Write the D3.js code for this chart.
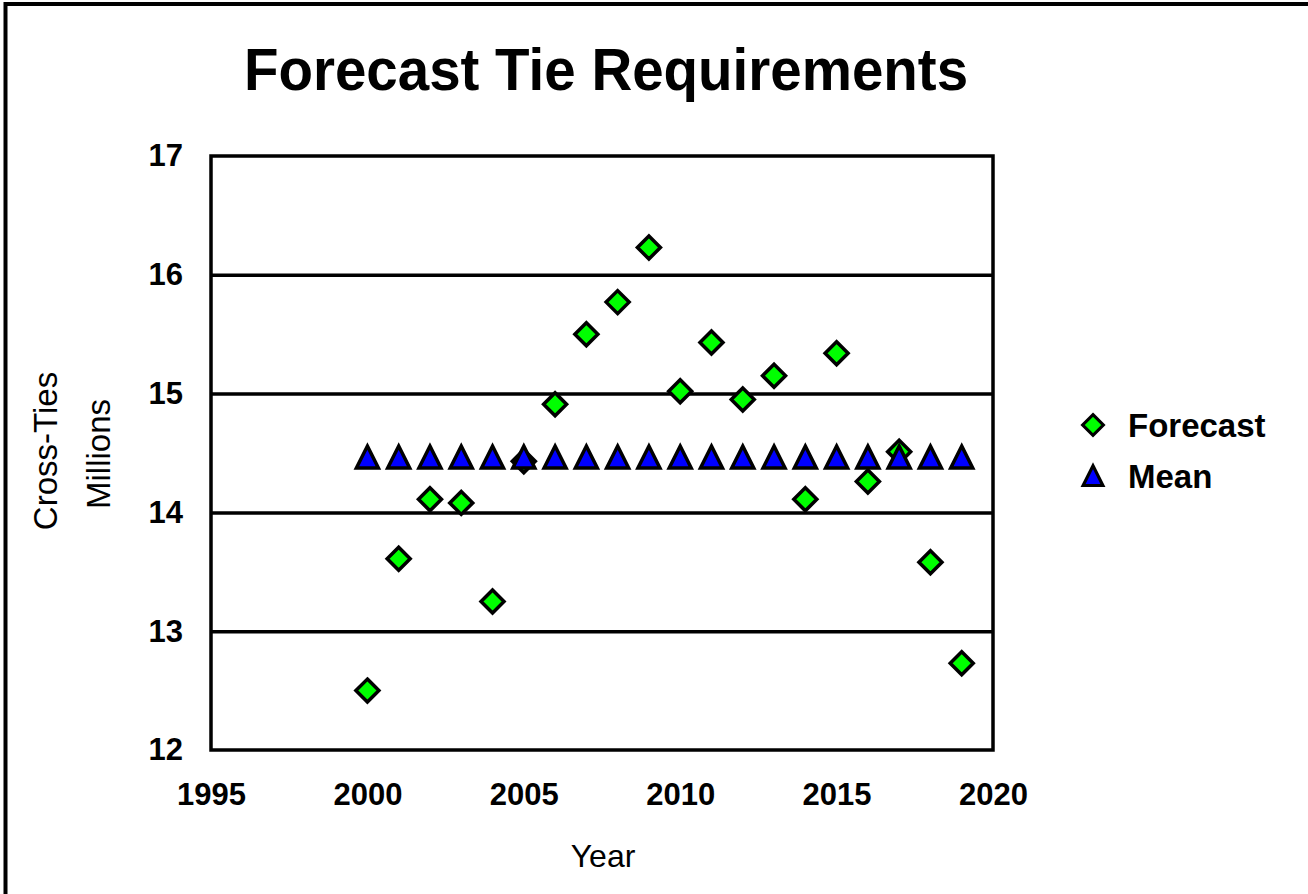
<!DOCTYPE html>
<html>
<head>
<meta charset="utf-8">
<script src="https://cdn.jsdelivr.net/npm/d3@7"></script>
<style>
  html, body { margin: 0; padding: 0; background: #fff; }
  svg { display: block; }
  text { font-family: "Liberation Sans", Arial, sans-serif; fill: #000; }
</style>
</head>
<body>
<svg id="chart" width="1308" height="894"></svg>
<script>
// Annual cross-tie requirements (millions), forecast vs. long-run mean
const years = [2000, 2001, 2002, 2003, 2004, 2005, 2006, 2007, 2008, 2009,
               2010, 2011, 2012, 2013, 2014, 2015, 2016, 2017, 2018, 2019];
const forecast = [12.50, 13.61, 14.11, 14.08, 13.25, 14.43, 14.91, 15.50, 15.77, 16.23,
                  15.02, 15.43, 14.95, 15.15, 14.11, 15.34, 14.26, 14.51, 13.58, 12.73];
const mean = [14.47, 14.47, 14.47, 14.47, 14.47, 14.47, 14.47, 14.47, 14.47, 14.47,
              14.47, 14.47, 14.47, 14.47, 14.47, 14.47, 14.47, 14.47, 14.47, 14.47];
const xTicks = [1995, 2000, 2005, 2010, 2015, 2020];
const yTicks = [12, 13, 14, 15, 16, 17];
const seriesNames = ["Forecast", "Mean"];

const svg = d3.select("#chart");

// Outer chart frame (runs off the right and bottom of the page)
svg.append("rect")
  .attr("x", 5.5).attr("y", 4)
  .attr("width", 1320).attr("height", 910)
  .attr("fill", "none").attr("stroke", "#000").attr("stroke-width", 4);

const plot = { left: 211, right: 993, top: 156, bottom: 750 };

const x = d3.scaleLinear().domain([1995, 2020]).range([plot.left, plot.right]);
const y = d3.scaleLinear().domain([12, 17]).range([plot.bottom, plot.top]);

// Title
svg.append("text")
  .attr("transform", "translate(606,90) scale(1,1.06)")
  .attr("text-anchor", "middle")
  .attr("font-size", 56.5).attr("font-weight", "bold")
  .text("Forecast Tie Requirements");

// Horizontal gridlines
svg.append("g")
  .attr("transform", `translate(${plot.left},0)`)
  .call(d3.axisLeft(y).tickValues(yTicks.slice(1, -1))
        .tickSize(-(plot.right - plot.left)).tickFormat(""))
  .call(g => g.select(".domain").remove())
  .call(g => g.selectAll("line").attr("stroke", "#000").attr("stroke-width", 3.5));

// Plot area border
svg.append("rect")
  .attr("x", plot.left).attr("y", plot.top)
  .attr("width", plot.right - plot.left).attr("height", plot.bottom - plot.top)
  .attr("fill", "none").attr("stroke", "#000").attr("stroke-width", 3.5);

const tickStyle = g => g.selectAll("text")
  .attr("font-size", 31).attr("font-weight", "bold")
  .attr("font-family", "Liberation Sans, Arial, sans-serif").attr("fill", "#000");

// Y axis labels
svg.append("g")
  .attr("transform", `translate(${plot.left},0)`)
  .call(d3.axisLeft(y).tickValues(yTicks).tickSize(0).tickPadding(28).tickFormat(d3.format("d")))
  .call(g => g.select(".domain").remove())
  .call(tickStyle);

// X axis labels
svg.append("g")
  .attr("transform", `translate(0,${plot.bottom})`)
  .call(d3.axisBottom(x).tickValues(xTicks).tickSize(0).tickPadding(33).tickFormat(d3.format("d")))
  .call(g => g.select(".domain").remove())
  .call(tickStyle);

// Axis titles
svg.append("text")
  .attr("transform", "translate(57,451) rotate(-90)")
  .attr("text-anchor", "middle").attr("font-size", 33)
  .text("Cross-Ties");
svg.append("text")
  .attr("transform", "translate(110,454) rotate(-90)")
  .attr("text-anchor", "middle").attr("font-size", 33)
  .text("Millions");
svg.append("text")
  .attr("x", 603).attr("y", 867)
  .attr("text-anchor", "middle").attr("font-size", 32)
  .text("Year");

// Marker shapes
const diamondPath = "M0,-11.5L11.5,0L0,11.5L-11.5,0Z";
const trianglePath = "M0,-11.5L11,10.5L-11,10.5Z";

// Forecast series (diamonds)
svg.append("g").selectAll("path")
  .data(years.map((yr, i) => ({ yr, v: forecast[i] })))
  .join("path")
  .attr("d", diamondPath)
  .attr("transform", d => `translate(${x(d.yr)},${y(d.v)})`)
  .attr("fill", "#00ff00").attr("stroke", "#000").attr("stroke-width", 3.5)
  .attr("stroke-linejoin", "miter");

// Mean series (triangles), drawn on top
svg.append("g").selectAll("path")
  .data(years.map((yr, i) => ({ yr, v: mean[i] })))
  .join("path")
  .attr("d", trianglePath)
  .attr("transform", d => `translate(${x(d.yr)},${y(d.v) + 1})`)
  .attr("fill", "#0000ff").attr("stroke", "#000").attr("stroke-width", 3.5)
  .attr("stroke-linejoin", "miter");

// Legend
const legend = svg.append("g");
const legendRows = [
  { name: seriesNames[0], shape: diamondPath, fill: "#00ff00", cy: 425 },
  { name: seriesNames[1], shape: trianglePath, fill: "#0000ff", cy: 476 }
];
legendRows.forEach(r => {
  legend.append("path")
    .attr("d", r.shape)
    .attr("transform", `translate(1093,${r.cy}) scale(0.9)`)
    .attr("fill", r.fill).attr("stroke", "#000").attr("stroke-width", 3.5);
  legend.append("text")
    .attr("x", 1128).attr("y", r.cy + 12)
    .attr("font-size", 33).attr("font-weight", "bold")
    .text(r.name);
});
</script>
</body>
</html>
